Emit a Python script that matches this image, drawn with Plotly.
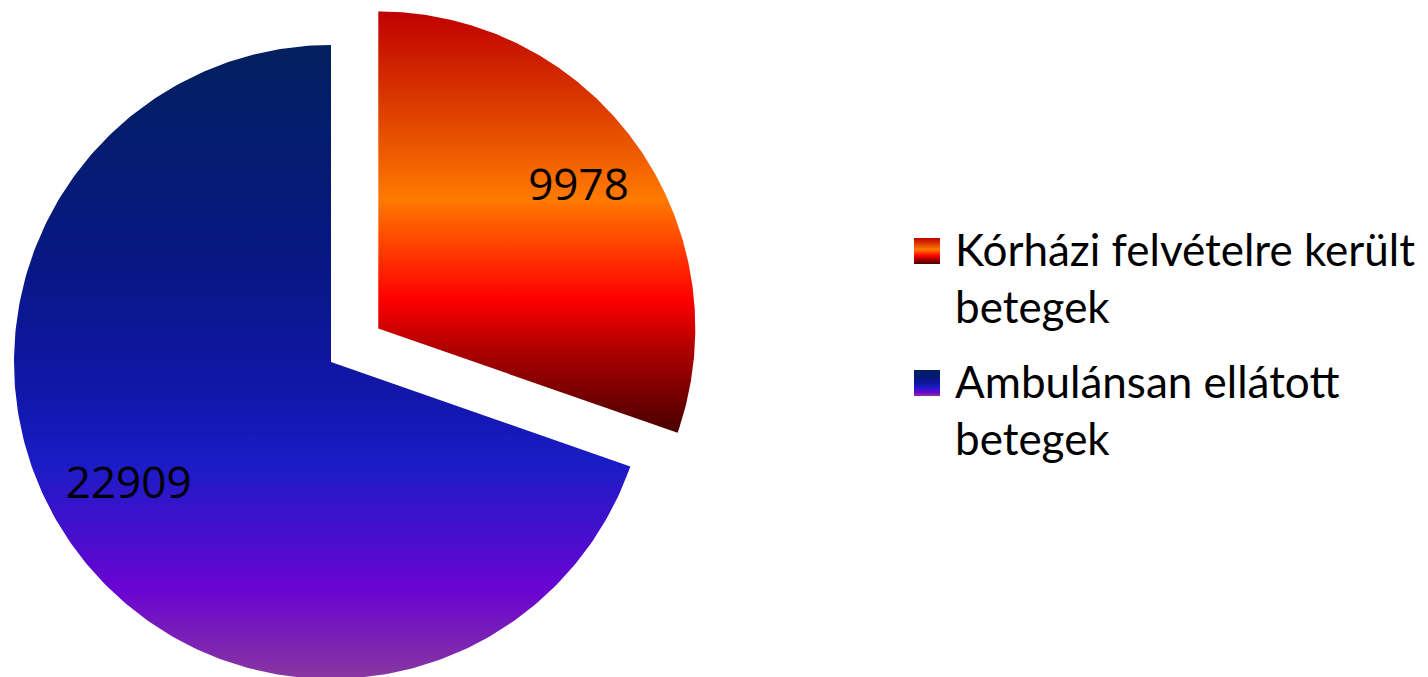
import numpy as np
import plotly.graph_objects as go

categories = ["Kórházi felvételre került betegek", "Ambulánsan ellátott betegek"]
legend_labels = ["Kórházi felvételre került<br>betegek", "Ambulánsan ellátott<br>betegek"]
values = [9978, 22909]

# styling / layout constants (pixel-based axis space)
W, H = 1428, 677
OFF = 8  # page body margin of the html page
CX, CY, R = 331, 362, 317
PULL = [0.183, 0.0]
LABEL_RF = [0.77, 0.75]
LABEL_DA = [0.5, 3.7]  # degrees
scales = [
    [[0, "#C00000"], [0.21, "#D93800"], [0.445, "#FF7A00"], [0.683, "#FF0000"],
     [0.8, "#B00000"], [1, "#480000"]],
    [[0, "#02205F"], [0.35, "#071784"], [0.55, "#1216AA"], [0.66, "#1A1CC6"],
     [0.86, "#6A04D2"], [1, "#8838A0"]],
]
LEG_X, LEG_SW = 914, 26
LEG_SW_BOTTOM = [264, 396]
LEG_TEXT_X = 953
LEG_TEXT_Y = [277, 409]
FONT_LEG = dict(family="Lato", size=44, color="black")

total = sum(values)
fig = go.Figure()
start = 0.0
label_x, label_y = [], []
for i, v in enumerate(values):
    span = 2 * np.pi * v / total
    t = np.linspace(start, start + span, 300)
    mid = start + span / 2
    ox = PULL[i] * R * np.sin(mid)
    oy = -PULL[i] * R * np.cos(mid)
    cx, cy = CX + ox, CY + oy
    xs = np.concatenate([[cx], cx + R * np.sin(t), [cx]])
    ys = np.concatenate([[cy], cy - R * np.cos(t), [cy]])
    fig.add_trace(go.Scatter(
        x=xs, y=ys, mode="lines", fill="toself",
        line=dict(width=0, color="rgba(0,0,0,0)"),
        fillgradient=dict(type="vertical", colorscale=scales[i],
                          start=float(ys.min()), stop=float(ys.max())),
        name=categories[i], hoverinfo="skip", showlegend=False,
    ))
    la = mid + np.radians(LABEL_DA[i])
    label_x.append(cx + LABEL_RF[i] * R * np.sin(la))
    label_y.append(cy - LABEL_RF[i] * R * np.cos(la))
    start += span

    # legend swatch (gradient square) + legend text
    y1 = LEG_SW_BOTTOM[i]
    y0 = y1 - LEG_SW
    fig.add_trace(go.Scatter(
        x=[LEG_X, LEG_X + LEG_SW, LEG_X + LEG_SW, LEG_X, LEG_X],
        y=[y0, y0, y1, y1, y0], mode="lines", fill="toself",
        line=dict(width=0, color="rgba(0,0,0,0)"),
        fillgradient=dict(type="vertical", colorscale=scales[i], start=y0, stop=y1),
        hoverinfo="skip", showlegend=False,
    ))
    fig.add_annotation(x=LEG_TEXT_X, y=LEG_TEXT_Y[i], xref="x", yref="y",
                       text=legend_labels[i], showarrow=False, xanchor="left",
                       yanchor="middle", align="left", font=FONT_LEG)

fig.add_trace(go.Scatter(
    x=label_x, y=label_y, mode="text", text=[str(v) for v in values],
    textfont=dict(family="Open Sans", size=44, color="black"),
    showlegend=False, hoverinfo="skip",
))

fig.update_layout(
    width=W, height=H,
    margin=dict(l=0, r=0, t=0, b=0),
    paper_bgcolor="white", plot_bgcolor="white",
    xaxis=dict(range=[OFF, W + OFF], visible=False, fixedrange=True),
    yaxis=dict(range=[H + OFF, OFF], visible=False, fixedrange=True),
    showlegend=False,
)
fig.write_html("out.html")
